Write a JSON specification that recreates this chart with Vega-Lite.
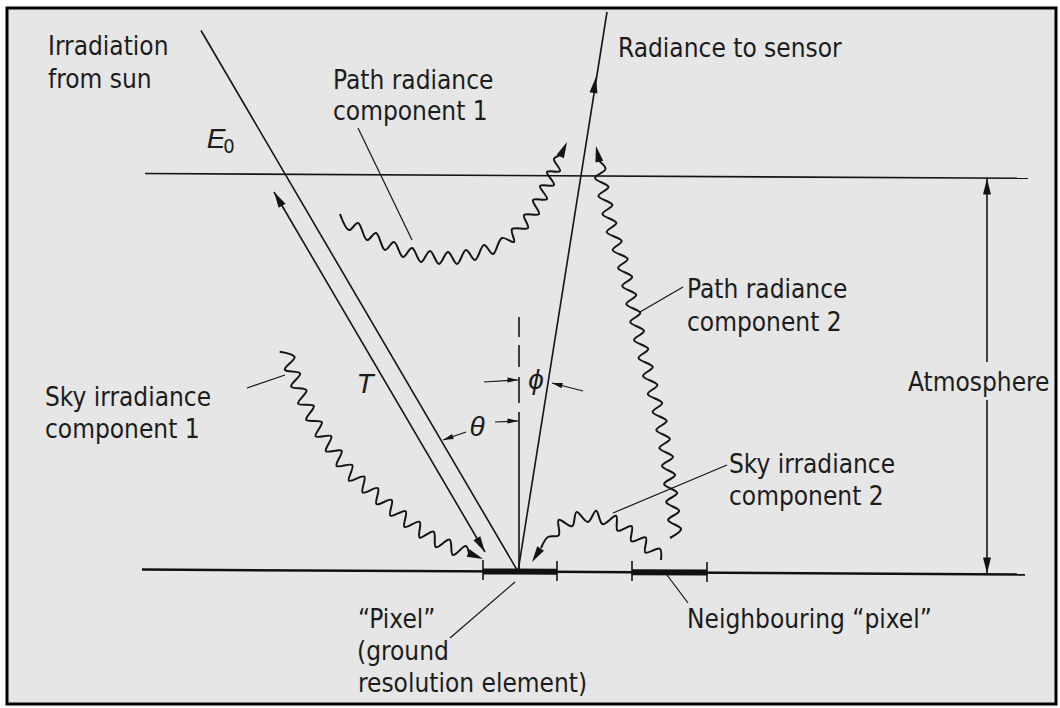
{
  "$schema": "https://vega.github.io/schema/vega-lite/v6.json",
  "width": 1060,
  "height": 708,
  "autosize": {"type": "none"},
  "padding": 0,
  "background": "white",
  "config": {"view": {"stroke": null}},
  "datasets": {
    "frame": [{"x": 7, "y": 8, "x2": 1056, "y2": 704}],
    "segs": [
      {"k": "mid", "x": 145, "y": 173.5, "x2": 1028, "y2": 178.3},
      {"k": "ground", "x": 142, "y": 569.5, "x2": 1025, "y2": 574.5},
      {"k": "ray", "x": 201, "y": 30.5, "x2": 518, "y2": 571.6},
      {"k": "ray", "x": 274, "y": 192, "x2": 485, "y2": 552},
      {"k": "ray", "x": 518, "y": 571.6, "x2": 607, "y2": 12},
      {"k": "ray", "x": 519, "y": 317, "x2": 519, "y2": 337},
      {"k": "ray", "x": 519, "y": 345, "x2": 519, "y2": 367},
      {"k": "ray", "x": 519, "y": 377, "x2": 519, "y2": 403},
      {"k": "ray", "x": 519, "y": 412, "x2": 519, "y2": 571.6},
      {"k": "ray", "x": 987, "y": 178, "x2": 987, "y2": 362},
      {"k": "ray", "x": 987, "y": 400, "x2": 987, "y2": 574},
      {"k": "thin", "x": 484, "y": 382, "x2": 518, "y2": 380},
      {"k": "thin", "x": 583, "y": 391, "x2": 552, "y2": 383},
      {"k": "thin", "x": 495, "y": 422, "x2": 518, "y2": 421},
      {"k": "thin", "x": 466, "y": 432, "x2": 443, "y2": 440},
      {"k": "thin", "x": 358, "y": 128, "x2": 412, "y2": 240},
      {"k": "thin", "x": 640, "y": 312, "x2": 683, "y2": 287},
      {"k": "thin", "x": 247, "y": 388, "x2": 285, "y2": 375},
      {"k": "thin", "x": 613, "y": 513, "x2": 727, "y2": 465},
      {"k": "thin", "x": 450, "y": 638, "x2": 515, "y2": 582},
      {"k": "thin", "x": 667, "y": 575, "x2": 688, "y2": 603},
      {"k": "bar", "x": 483, "y": 571.4, "x2": 557, "y2": 571.8},
      {"k": "bar", "x": 632, "y": 572.2, "x2": 707, "y2": 572.6},
      {"k": "tick", "x": 483, "y": 560, "x2": 483, "y2": 580},
      {"k": "tick", "x": 557, "y": 561, "x2": 557, "y2": 581},
      {"k": "tick", "x": 632, "y": 561, "x2": 632, "y2": 581},
      {"k": "tick", "x": 707, "y": 562, "x2": 707, "y2": 582}
    ],
    "waves": [
      {"id": "p1", "i": 0, "x": 340, "y": 214},
      {"id": "p1", "i": 1, "x": 349, "y": 230},
      {"id": "p1", "i": 2, "x": 358, "y": 223},
      {"id": "p1", "i": 3, "x": 367, "y": 240},
      {"id": "p1", "i": 4, "x": 376, "y": 233},
      {"id": "p1", "i": 5, "x": 385, "y": 250},
      {"id": "p1", "i": 6, "x": 394, "y": 242},
      {"id": "p1", "i": 7, "x": 403, "y": 257},
      {"id": "p1", "i": 8, "x": 412, "y": 248},
      {"id": "p1", "i": 9, "x": 421, "y": 262},
      {"id": "p1", "i": 10, "x": 430, "y": 251},
      {"id": "p1", "i": 11, "x": 439, "y": 264},
      {"id": "p1", "i": 12, "x": 448, "y": 252},
      {"id": "p1", "i": 13, "x": 457, "y": 264},
      {"id": "p1", "i": 14, "x": 466, "y": 250},
      {"id": "p1", "i": 15, "x": 475, "y": 260},
      {"id": "p1", "i": 16, "x": 484, "y": 245},
      {"id": "p1", "i": 17, "x": 493, "y": 254},
      {"id": "p1", "i": 18, "x": 502, "y": 238},
      {"id": "p1", "i": 19, "x": 514, "y": 242},
      {"id": "p1", "i": 20, "x": 512, "y": 229},
      {"id": "p1", "i": 21, "x": 528, "y": 228},
      {"id": "p1", "i": 22, "x": 524, "y": 215},
      {"id": "p1", "i": 23, "x": 539, "y": 214},
      {"id": "p1", "i": 24, "x": 533, "y": 200},
      {"id": "p1", "i": 25, "x": 547, "y": 199},
      {"id": "p1", "i": 26, "x": 540, "y": 186},
      {"id": "p1", "i": 27, "x": 554, "y": 185},
      {"id": "p1", "i": 28, "x": 547, "y": 172},
      {"id": "p1", "i": 29, "x": 560, "y": 171},
      {"id": "p1", "i": 30, "x": 554, "y": 159},
      {"id": "p1", "i": 31, "x": 561, "y": 155},
      {"id": "p2", "i": 0, "x": 598, "y": 160},
      {"id": "p2", "i": 1, "x": 605.5, "y": 169},
      {"id": "p2", "i": 2, "x": 595, "y": 178},
      {"id": "p2", "i": 3, "x": 608.5, "y": 187},
      {"id": "p2", "i": 4, "x": 598.4, "y": 196},
      {"id": "p2", "i": 5, "x": 612.4, "y": 205},
      {"id": "p2", "i": 6, "x": 602.4, "y": 214},
      {"id": "p2", "i": 7, "x": 616.4, "y": 223},
      {"id": "p2", "i": 8, "x": 606.7, "y": 232},
      {"id": "p2", "i": 9, "x": 621.7, "y": 241},
      {"id": "p2", "i": 10, "x": 612.7, "y": 250},
      {"id": "p2", "i": 11, "x": 627.7, "y": 259},
      {"id": "p2", "i": 12, "x": 618.1, "y": 268},
      {"id": "p2", "i": 13, "x": 632.2, "y": 277},
      {"id": "p2", "i": 14, "x": 622.2, "y": 286},
      {"id": "p2", "i": 15, "x": 636.3, "y": 295},
      {"id": "p2", "i": 16, "x": 626.3, "y": 304},
      {"id": "p2", "i": 17, "x": 640.3, "y": 313},
      {"id": "p2", "i": 18, "x": 630.2, "y": 322},
      {"id": "p2", "i": 19, "x": 644.1, "y": 331},
      {"id": "p2", "i": 20, "x": 634, "y": 340},
      {"id": "p2", "i": 21, "x": 648.3, "y": 349},
      {"id": "p2", "i": 22, "x": 638.5, "y": 358},
      {"id": "p2", "i": 23, "x": 652.8, "y": 367},
      {"id": "p2", "i": 24, "x": 643, "y": 376},
      {"id": "p2", "i": 25, "x": 657.4, "y": 385},
      {"id": "p2", "i": 26, "x": 647.8, "y": 394},
      {"id": "p2", "i": 27, "x": 662.2, "y": 403},
      {"id": "p2", "i": 28, "x": 652.6, "y": 412},
      {"id": "p2", "i": 29, "x": 666.7, "y": 421},
      {"id": "p2", "i": 30, "x": 656.3, "y": 430},
      {"id": "p2", "i": 31, "x": 669.9, "y": 439},
      {"id": "p2", "i": 32, "x": 659.4, "y": 448},
      {"id": "p2", "i": 33, "x": 673, "y": 457},
      {"id": "p2", "i": 34, "x": 662, "y": 466},
      {"id": "p2", "i": 35, "x": 675.1, "y": 475},
      {"id": "p2", "i": 36, "x": 664.1, "y": 484},
      {"id": "p2", "i": 37, "x": 677.2, "y": 493},
      {"id": "p2", "i": 38, "x": 666.2, "y": 502},
      {"id": "p2", "i": 39, "x": 679.2, "y": 511},
      {"id": "p2", "i": 40, "x": 668.1, "y": 520},
      {"id": "p2", "i": 41, "x": 681.1, "y": 529},
      {"id": "p2", "i": 42, "x": 670, "y": 538},
      {"id": "s1", "i": 0, "x": 279.7, "y": 351.7},
      {"id": "s1", "i": 1, "x": 294.6, "y": 357.0},
      {"id": "s1", "i": 2, "x": 284.8, "y": 369.6},
      {"id": "s1", "i": 3, "x": 300.1, "y": 373.5},
      {"id": "s1", "i": 4, "x": 291.1, "y": 386.5},
      {"id": "s1", "i": 5, "x": 306.5, "y": 390.3},
      {"id": "s1", "i": 6, "x": 298.1, "y": 403.7},
      {"id": "s1", "i": 7, "x": 313.8, "y": 406.0},
      {"id": "s1", "i": 8, "x": 306.2, "y": 419.8},
      {"id": "s1", "i": 9, "x": 321.8, "y": 422.1},
      {"id": "s1", "i": 10, "x": 315.6, "y": 436.3},
      {"id": "s1", "i": 11, "x": 331.3, "y": 436.3},
      {"id": "s1", "i": 12, "x": 325.9, "y": 451.1},
      {"id": "s1", "i": 13, "x": 341.6, "y": 450.8},
      {"id": "s1", "i": 14, "x": 336.6, "y": 465.8},
      {"id": "s1", "i": 15, "x": 352.3, "y": 465.2},
      {"id": "s1", "i": 16, "x": 349.0, "y": 480.7},
      {"id": "s1", "i": 17, "x": 364.3, "y": 476.6},
      {"id": "s1", "i": 18, "x": 362.7, "y": 492.4},
      {"id": "s1", "i": 19, "x": 378.0, "y": 488.2},
      {"id": "s1", "i": 20, "x": 376.5, "y": 504.1},
      {"id": "s1", "i": 21, "x": 391.7, "y": 499.9},
      {"id": "s1", "i": 22, "x": 390.4, "y": 515.7},
      {"id": "s1", "i": 23, "x": 405.7, "y": 511.2},
      {"id": "s1", "i": 24, "x": 404.5, "y": 527.0},
      {"id": "s1", "i": 25, "x": 419.6, "y": 521.8},
      {"id": "s1", "i": 26, "x": 419.6, "y": 537.6},
      {"id": "s1", "i": 27, "x": 433.6, "y": 531.6},
      {"id": "s1", "i": 28, "x": 435.9, "y": 547.2},
      {"id": "s1", "i": 29, "x": 449.7, "y": 539.6},
      {"id": "s1", "i": 30, "x": 452.8, "y": 555.0},
      {"id": "s1", "i": 31, "x": 465.8, "y": 546.0},
      {"id": "s1", "i": 32, "x": 469, "y": 553.4},
      {"id": "s2", "i": 0, "x": 541, "y": 548},
      {"id": "s2", "i": 1, "x": 548, "y": 537},
      {"id": "s2", "i": 2, "x": 558.7, "y": 535.3},
      {"id": "s2", "i": 3, "x": 558.7, "y": 519.9},
      {"id": "s2", "i": 4, "x": 572.2, "y": 526.2},
      {"id": "s2", "i": 5, "x": 576.5, "y": 512.1},
      {"id": "s2", "i": 6, "x": 587.9, "y": 522.0},
      {"id": "s2", "i": 7, "x": 596.1, "y": 510.7},
      {"id": "s2", "i": 8, "x": 602.6, "y": 524.1},
      {"id": "s2", "i": 9, "x": 616.1, "y": 515.9},
      {"id": "s2", "i": 10, "x": 617.6, "y": 530.7},
      {"id": "s2", "i": 11, "x": 631.7, "y": 526.2},
      {"id": "s2", "i": 12, "x": 631.3, "y": 541.3},
      {"id": "s2", "i": 13, "x": 645.8, "y": 537.5},
      {"id": "s2", "i": 14, "x": 645.3, "y": 552.5},
      {"id": "s2", "i": 15, "x": 659.8, "y": 548.7},
      {"id": "s2", "i": 16, "x": 661, "y": 560}
    ],
    "heads": [
      {"k": "big", "x": 274, "y": 192, "a": -30.6},
      {"k": "big", "x": 485, "y": 552, "a": 149.4},
      {"k": "big", "x": 596, "y": 77, "a": 9},
      {"k": "big", "x": 567, "y": 142, "a": 24.8},
      {"k": "big", "x": 596, "y": 146, "a": -12},
      {"k": "big", "x": 483, "y": 559, "a": 111.8},
      {"k": "big", "x": 532, "y": 562, "a": -147.4},
      {"k": "big", "x": 987, "y": 178.5, "a": 0},
      {"k": "big", "x": 987, "y": 573.5, "a": 180},
      {"k": "small", "x": 518, "y": 380, "a": 90},
      {"k": "small", "x": 552, "y": 383, "a": -75.5},
      {"k": "small", "x": 518, "y": 421, "a": 90},
      {"k": "small", "x": 443, "y": 440, "a": -109.2}
    ],
    "labels": [
      {"x": 48, "y": 55, "t": "Irradiation"},
      {"x": 48, "y": 88, "t": "from sun"},
      {"x": 333, "y": 89, "t": "Path radiance"},
      {"x": 333, "y": 120, "t": "component 1"},
      {"x": 618, "y": 57, "t": "Radiance to sensor"},
      {"x": 687, "y": 298, "t": "Path radiance"},
      {"x": 687, "y": 331, "t": "component 2"},
      {"x": 908, "y": 391, "t": "Atmosphere"},
      {"x": 45, "y": 406, "t": "Sky irradiance"},
      {"x": 45, "y": 438, "t": "component 1"},
      {"x": 729, "y": 473, "t": "Sky irradiance"},
      {"x": 729, "y": 505, "t": "component 2"},
      {"x": 358, "y": 628, "t": "“Pixel”"},
      {"x": 357, "y": 660, "t": "(ground"},
      {"x": 358, "y": 692, "t": "resolution element)"},
      {"x": 687, "y": 628, "t": "Neighbouring “pixel”"}
    ],
    "symbols": [
      {"x": 365, "y": 385, "t": "T"},
      {"x": 536, "y": 381, "t": "ϕ"},
      {"x": 477, "y": 428, "t": "θ"},
      {"x": 216, "y": 140, "t": "E"}
    ],
    "subs": [
      {"x": 229, "y": 147, "t": "0"}
    ]
  },
  "encoding": {
    "x": {"field": "x", "type": "quantitative", "axis": null, "scale": {"domain": [0, 1060], "nice": false, "zero": false}},
    "y": {"field": "y", "type": "quantitative", "axis": null, "scale": {"domain": [0, 708], "nice": false, "zero": false, "reverse": true}}
  },
  "layer": [
    {
      "data": {"name": "frame"},
      "mark": {"type": "rect", "fill": "#e6e6e6", "stroke": "#000000", "strokeWidth": 3},
      "encoding": {"x2": {"field": "x2"}, "y2": {"field": "y2"}}
    },
    {
      "data": {"name": "segs"},
      "transform": [{"filter": "datum.k == 'thin'"}],
      "mark": {"type": "rule", "color": "#141414", "strokeWidth": 1.2},
      "encoding": {"x2": {"field": "x2"}, "y2": {"field": "y2"}}
    },
    {
      "data": {"name": "segs"},
      "transform": [{"filter": "datum.k == 'ray' || datum.k == 'mid' || datum.k == 'tick'"}],
      "mark": {"type": "rule", "color": "#141414", "strokeWidth": 1.6},
      "encoding": {"x2": {"field": "x2"}, "y2": {"field": "y2"}}
    },
    {
      "data": {"name": "segs"},
      "transform": [{"filter": "datum.k == 'ground'"}],
      "mark": {"type": "rule", "color": "#111111", "strokeWidth": 2.5},
      "encoding": {"x2": {"field": "x2"}, "y2": {"field": "y2"}}
    },
    {
      "data": {"name": "segs"},
      "transform": [{"filter": "datum.k == 'bar'"}],
      "mark": {"type": "rule", "color": "#111111", "strokeWidth": 6},
      "encoding": {"x2": {"field": "x2"}, "y2": {"field": "y2"}}
    },
    {
      "data": {"name": "waves"},
      "mark": {"type": "line", "interpolate": "catmull-rom", "color": "#141414", "strokeWidth": 2},
      "encoding": {
        "detail": {"field": "id", "type": "nominal"},
        "order": {"field": "i", "type": "quantitative"}
      }
    },
    {
      "data": {"name": "heads"},
      "transform": [{"filter": "datum.k == 'big'"}],
      "mark": {"type": "point", "shape": "M0,0L0.5,2L-0.5,2Z", "filled": true, "color": "#141414", "opacity": 1, "size": 256, "strokeWidth": 0},
      "encoding": {"angle": {"field": "a", "type": "quantitative", "scale": null}}
    },
    {
      "data": {"name": "heads"},
      "transform": [{"filter": "datum.k == 'small'"}],
      "mark": {"type": "point", "shape": "M0,0L0.5,2L-0.5,2Z", "filled": true, "color": "#141414", "opacity": 1, "size": 110, "strokeWidth": 0},
      "encoding": {"angle": {"field": "a", "type": "quantitative", "scale": null}}
    },
    {
      "data": {"name": "labels"},
      "mark": {"type": "text", "align": "left", "baseline": "alphabetic", "font": "DejaVu Sans Condensed, DejaVu Sans, sans-serif", "fontSize": 26, "color": "#1c1c1c"},
      "encoding": {"text": {"field": "t", "type": "nominal"}}
    },
    {
      "data": {"name": "symbols"},
      "mark": {"type": "text", "align": "center", "baseline": "middle", "font": "Liberation Sans, DejaVu Sans, sans-serif", "fontStyle": "italic", "fontSize": 28, "color": "#1c1c1c"},
      "encoding": {"text": {"field": "t", "type": "nominal"}}
    },
    {
      "data": {"name": "subs"},
      "mark": {"type": "text", "align": "center", "baseline": "middle", "font": "DejaVu Sans Condensed, DejaVu Sans, sans-serif", "fontSize": 20, "color": "#1c1c1c"},
      "encoding": {"text": {"field": "t", "type": "nominal"}}
    }
  ]
}
